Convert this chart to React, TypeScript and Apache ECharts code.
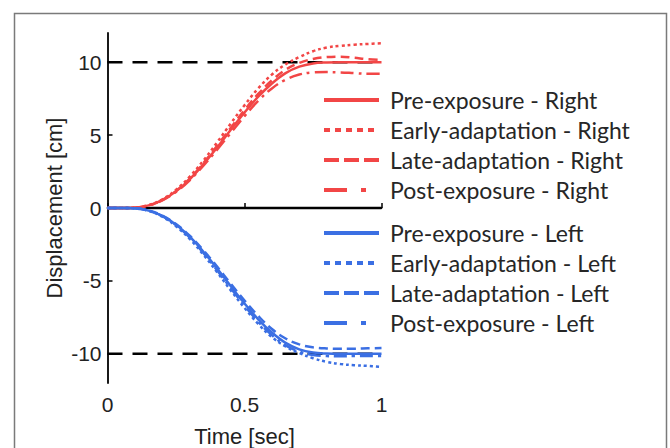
import React, { useEffect, useRef } from "react";
import * as echarts from "echarts";

const TIME = [0, 0.05, 0.1, 0.15, 0.2, 0.25, 0.3, 0.35, 0.4, 0.45, 0.5, 0.55, 0.6, 0.65, 0.7, 0.75, 0.8, 0.85, 0.9, 0.95, 1.0];

const PRE_RIGHT = [0, 0, 0.02, 0.18, 0.54, 1.14, 1.97, 3.0, 4.15, 5.36, 6.55, 7.63, 8.54, 9.25, 9.69, 9.91, 9.98, 10.0, 10.0, 10.0, 10.0];
const EARLY_RIGHT = [0, 0, 0.03, 0.2, 0.6, 1.25, 2.15, 3.25, 4.5, 5.8, 7.05, 8.2, 9.15, 9.85, 10.35, 10.75, 11.0, 11.12, 11.2, 11.25, 11.3];
const LATE_RIGHT = [0, 0, 0.02, 0.18, 0.55, 1.17, 2.02, 3.08, 4.27, 5.5, 6.72, 7.82, 8.75, 9.48, 9.95, 10.22, 10.35, 10.38, 10.3, 10.2, 10.15];
const POST_RIGHT = [0, 0, 0.02, 0.17, 0.52, 1.1, 1.9, 2.9, 4.0, 5.15, 6.3, 7.35, 8.2, 8.8, 9.15, 9.3, 9.32, 9.3, 9.25, 9.2, 9.2];

const PRE_LEFT = [0, 0, -0.02, -0.18, -0.54, -1.14, -1.97, -3.0, -4.15, -5.36, -6.55, -7.63, -8.54, -9.25, -9.69, -9.91, -9.98, -10.0, -10.0, -10.0, -10.0];
const EARLY_LEFT = [0, 0, -0.03, -0.2, -0.6, -1.25, -2.12, -3.2, -4.4, -5.65, -6.85, -7.95, -8.85, -9.5, -9.95, -10.3, -10.55, -10.7, -10.78, -10.83, -10.9];
const LATE_LEFT = [0, 0, -0.02, -0.17, -0.52, -1.1, -1.9, -2.9, -4.02, -5.2, -6.35, -7.4, -8.3, -8.95, -9.35, -9.55, -9.63, -9.65, -9.65, -9.62, -9.6];
const POST_LEFT = [0, 0, -0.02, -0.19, -0.56, -1.18, -2.03, -3.08, -4.27, -5.5, -6.7, -7.8, -8.72, -9.42, -9.85, -10.08, -10.15, -10.17, -10.15, -10.15, -10.15];

const Y_TICKS = [-10, -5, 0, 5, 10];
const TARGET_LEVELS = [10, -10];

const RIGHT_NAMES = ["Pre-exposure - Right", "Early-adaptation - Right", "Late-adaptation - Right", "Post-exposure - Right"];
const LEFT_NAMES = ["Pre-exposure - Left", "Early-adaptation - Left", "Late-adaptation - Left", "Post-exposure - Left"];

const RED = "#f24646";
const BLUE = "#3b6fe3";

const CURVE_DASH: any[] = ["solid", [3, 3], [9, 5], [13, 5, 3, 5]];
const LEGEND_DASH: any[] = ["solid", [6, 5], [15, 5], [23, 14, 5, 13]];

export default function App() {
  const ref = useRef<HTMLDivElement>(null);
  useEffect(() => {
    if (!ref.current) return;
    const chart = echarts.init(ref.current, undefined, { renderer: "svg" });
    const pair = (arr: number[]) => TIME.map((t, i) => [t, arr[i]]);
    const rightData = [PRE_RIGHT, EARLY_RIGHT, LATE_RIGHT, POST_RIGHT];
    const leftData = [PRE_LEFT, EARLY_LEFT, LATE_LEFT, POST_LEFT];

    const refSeries: any[] = [
      ...TARGET_LEVELS.map((lv, i) => ({
        name: "target" + i,
        type: "line",
        data: [[0, lv], [1, lv]],
        symbol: "none",
        silent: true,
        lineStyle: { color: "#000", width: 2.5, type: [15, 10] },
      })),
      {
        name: "zero",
        type: "line",
        data: [[0, 0], [1, 0]],
        symbol: "none",
        silent: true,
        lineStyle: { color: "#000", width: 2.5, type: "solid" },
      },
    ];

    const curve = (name: string, arr: number[], color: string, k: number) => ({
      name,
      type: "line",
      data: pair(arr),
      symbol: "none",
      smooth: 0.4,
      lineStyle: { color, width: 2.5, type: CURVE_DASH[k] },
      itemStyle: { color },
    });

    const legendBase = (names: string[], top: number) => ({
      orient: "vertical",
      left: 322,
      top,
      padding: 0,
      itemWidth: 55,
      itemHeight: 14,
      itemGap: 6,
      selectedMode: false,
      itemStyle: { opacity: 0 },
      lineStyle: { width: 4 },
      textStyle: {
        fontFamily: "Lato",
        fontSize: 23,
        lineHeight: 24,
        color: "#262626",
        padding: [0, 0, 0, 6],
      },
      data: names.map((n, k) => ({ name: n, itemStyle: { opacity: 0 }, lineStyle: { width: 4, type: LEGEND_DASH[k] } })),
    });

    chart.setOption({
      animation: false,
      backgroundColor: "#fff",
      grid: { left: 107.5, right: 288.5, top: 33, bottom: 65, containLabel: false, outerBoundsMode: "none" },
      xAxis: {
        type: "value",
        min: 0,
        max: 1,
        interval: 0.5,
        name: "Time [sec]",
        nameLocation: "middle",
        nameGap: 42,
        nameTextStyle: { fontFamily: "Liberation Sans", fontSize: 22, color: "#222" },
        axisLine: { lineStyle: { color: "#000", width: 1.8 } },
        axisTick: { inside: true, length: 5, lineStyle: { color: "#000", width: 1.5 } },
        axisLabel: { margin: 11, fontFamily: "Liberation Sans", fontSize: 21, color: "#222" },
        splitLine: { show: false },
      },
      yAxis: {
        type: "value",
        min: -12,
        max: 12,
        name: "Displacement [cm]",
        nameLocation: "middle",
        nameGap: 42,
        nameTextStyle: { fontFamily: "Liberation Sans", fontSize: 22, color: "#222" },
        axisLine: { show: true, lineStyle: { color: "#000", width: 1.8 } },
        axisTick: { show: true, inside: true, length: 5, customValues: Y_TICKS, lineStyle: { color: "#000", width: 1.5 } },
        axisLabel: { margin: 6, fontFamily: "Liberation Sans", fontSize: 21, color: "#222", customValues: Y_TICKS },
        splitLine: { show: false },
      },
      legend: [legendBase(RIGHT_NAMES, 88), legendBase(LEFT_NAMES, 221)],
      graphic: [
        {
          type: "rect",
          silent: true,
          shape: { x: 14.5, y: 13.5, width: 652, height: 480 },
          style: { fill: "none", stroke: "#7a7a7a", lineWidth: 1.5 },
        },
      ],
      series: [
        ...refSeries,
        ...RIGHT_NAMES.map((n, k) => curve(n, rightData[k], RED, k)),
        ...LEFT_NAMES.map((n, k) => curve(n, leftData[k], BLUE, k)),
      ],
    });
    return () => chart.dispose();
  }, []);
  return <div ref={ref} style={{ position: "absolute", left: 0, top: 0, width: 670, height: 448 }} />;
}
